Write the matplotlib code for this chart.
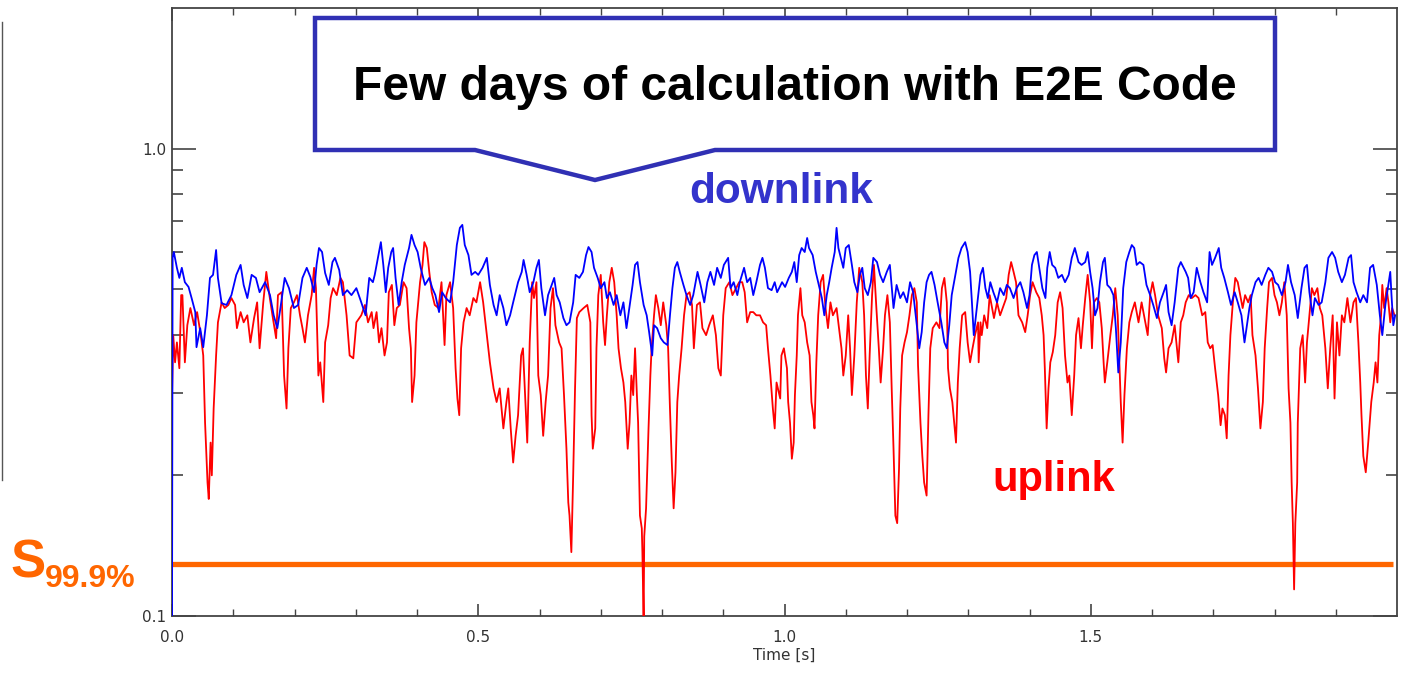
import matplotlib
matplotlib.use("Agg")
import matplotlib.pyplot as plt
from matplotlib import font_manager
from matplotlib.patches import Polygon
from matplotlib.ticker import FixedLocator, NullFormatter

# ---------------- data ----------------
downlink_time = [
    0.000, 0.001, 0.003, 0.008, 0.012, 0.016, 0.021, 0.027, 0.032, 0.038,
    0.040, 0.046, 0.051, 0.057, 0.062, 0.067, 0.072, 0.075, 0.081, 0.089,
    0.097, 0.105, 0.112, 0.117, 0.123, 0.130, 0.137, 0.143, 0.152, 0.160,
    0.166, 0.172, 0.177, 0.184, 0.191, 0.199, 0.206, 0.213, 0.220, 0.226,
    0.232, 0.236, 0.240, 0.245, 0.250, 0.256, 0.262, 0.266, 0.273, 0.279,
    0.286, 0.293, 0.301, 0.309, 0.316, 0.322, 0.328, 0.331, 0.337, 0.341,
    0.345, 0.349, 0.353, 0.358, 0.361, 0.365, 0.370, 0.375, 0.380, 0.387,
    0.391, 0.396, 0.401, 0.406, 0.413, 0.420, 0.425, 0.430, 0.436, 0.441,
    0.447, 0.454, 0.459, 0.465, 0.470, 0.474, 0.478, 0.484, 0.489, 0.495,
    0.500, 0.507, 0.514, 0.519, 0.525, 0.530, 0.535, 0.541, 0.546, 0.552,
    0.557, 0.565, 0.571, 0.574, 0.579, 0.584, 0.590, 0.595, 0.599, 0.603,
    0.609, 0.614, 0.620, 0.624, 0.628, 0.633, 0.639, 0.644, 0.649, 0.655,
    0.659, 0.665, 0.671, 0.676, 0.680, 0.685, 0.689, 0.695, 0.700, 0.706,
    0.710, 0.715, 0.721, 0.726, 0.732, 0.737, 0.742, 0.748, 0.752, 0.756,
    0.760, 0.764, 0.770, 0.775, 0.779, 0.784, 0.787, 0.792, 0.798, 0.803,
    0.809, 0.813, 0.817, 0.821, 0.825, 0.829, 0.835, 0.840, 0.846, 0.851,
    0.858, 0.863, 0.869, 0.874, 0.879, 0.885, 0.890, 0.896, 0.901, 0.908,
    0.912, 0.917, 0.923, 0.927, 0.934, 0.939, 0.944, 0.949, 0.954, 0.960,
    0.964, 0.968, 0.973, 0.979, 0.984, 0.988, 0.996, 1.001, 1.007, 1.012,
    1.016, 1.020, 1.024, 1.028, 1.033, 1.037, 1.040, 1.046, 1.051, 1.055,
    1.061, 1.065, 1.069, 1.073, 1.077, 1.082, 1.085, 1.088, 1.092, 1.096,
    1.100, 1.105, 1.110, 1.114, 1.119, 1.123, 1.127, 1.131, 1.136, 1.141,
    1.145, 1.151, 1.156, 1.161, 1.167, 1.172, 1.178, 1.183, 1.189, 1.194,
    1.200, 1.205, 1.210, 1.216, 1.220, 1.224, 1.228, 1.232, 1.236, 1.240,
    1.245, 1.250, 1.256, 1.261, 1.265, 1.269, 1.273, 1.278, 1.284, 1.289,
    1.295, 1.299, 1.303, 1.306, 1.309, 1.314, 1.317, 1.320, 1.324, 1.328,
    1.332, 1.336, 1.341, 1.347, 1.352, 1.358, 1.363, 1.368, 1.374, 1.379,
    1.385, 1.390, 1.396, 1.400, 1.404, 1.408, 1.412, 1.416, 1.421, 1.426,
    1.429, 1.433, 1.437, 1.442, 1.447, 1.453, 1.458, 1.464, 1.469, 1.474,
    1.480, 1.485, 1.491, 1.495, 1.499, 1.503, 1.507, 1.511, 1.515, 1.520,
    1.523, 1.527, 1.532, 1.537, 1.541, 1.545, 1.549, 1.553, 1.558, 1.563,
    1.567, 1.571, 1.575, 1.580, 1.586, 1.591, 1.597, 1.602, 1.608, 1.613,
    1.619, 1.623, 1.627, 1.632, 1.637, 1.643, 1.647, 1.655, 1.659, 1.663,
    1.668, 1.673, 1.679, 1.684, 1.690, 1.694, 1.698, 1.703, 1.709, 1.713,
    1.718, 1.724, 1.729, 1.735, 1.740, 1.746, 1.751, 1.755, 1.759, 1.763,
    1.769, 1.774, 1.779, 1.785, 1.790, 1.796, 1.801, 1.806, 1.812, 1.818,
    1.822, 1.827, 1.833, 1.838, 1.844, 1.849, 1.853, 1.857, 1.862, 1.866,
    1.872, 1.877, 1.883, 1.888, 1.894, 1.899, 1.904, 1.910, 1.915, 1.921,
    1.925, 1.929, 1.934, 1.940, 1.945, 1.951, 1.956, 1.961, 1.967, 1.972,
    1.976, 1.981, 1.985, 1.989, 1.991, 1.994, 1.997,
]
downlink_value = [
    0.090, 0.584, 0.601, 0.556, 0.529, 0.556, 0.518, 0.506, 0.479, 0.447,
    0.376, 0.413, 0.376, 0.440, 0.529, 0.537, 0.607, 0.529, 0.467, 0.463,
    0.486, 0.537, 0.564, 0.511, 0.479, 0.537, 0.529, 0.493, 0.518, 0.486,
    0.440, 0.413, 0.456, 0.529, 0.503, 0.456, 0.463, 0.529, 0.556, 0.531,
    0.493, 0.564, 0.613, 0.601, 0.542, 0.511, 0.572, 0.584, 0.550, 0.486,
    0.498, 0.486, 0.503, 0.469, 0.440, 0.529, 0.518, 0.537, 0.592, 0.631,
    0.564, 0.493, 0.556, 0.601, 0.613, 0.529, 0.463, 0.518, 0.564, 0.613,
    0.654, 0.622, 0.601, 0.556, 0.511, 0.529, 0.503, 0.486, 0.447, 0.493,
    0.479, 0.469, 0.518, 0.622, 0.677, 0.687, 0.622, 0.592, 0.537, 0.545,
    0.537, 0.556, 0.584, 0.511, 0.463, 0.440, 0.486, 0.456, 0.419, 0.440,
    0.469, 0.518, 0.545, 0.578, 0.537, 0.493, 0.518, 0.556, 0.578, 0.503,
    0.440, 0.486, 0.511, 0.529, 0.486, 0.469, 0.434, 0.419, 0.425, 0.469,
    0.537, 0.529, 0.545, 0.592, 0.616, 0.601, 0.556, 0.529, 0.503, 0.518,
    0.479, 0.493, 0.463, 0.486, 0.440, 0.469, 0.413, 0.469, 0.511, 0.564,
    0.572, 0.518, 0.463, 0.440, 0.405, 0.361, 0.419, 0.413, 0.393, 0.385,
    0.380, 0.440, 0.503, 0.556, 0.572, 0.545, 0.511, 0.486, 0.463, 0.486,
    0.545, 0.511, 0.469, 0.518, 0.545, 0.511, 0.556, 0.529, 0.564, 0.584,
    0.503, 0.518, 0.486, 0.518, 0.556, 0.518, 0.529, 0.486, 0.518, 0.564,
    0.584, 0.556, 0.503, 0.498, 0.518, 0.493, 0.518, 0.506, 0.529, 0.545,
    0.572, 0.518, 0.592, 0.613, 0.601, 0.644, 0.613, 0.592, 0.545, 0.518,
    0.479, 0.440, 0.486, 0.518, 0.556, 0.601, 0.677, 0.613, 0.584, 0.556,
    0.613, 0.622, 0.564, 0.518, 0.493, 0.537, 0.556, 0.503, 0.486, 0.518,
    0.584, 0.572, 0.537, 0.518, 0.545, 0.564, 0.456, 0.511, 0.479, 0.493,
    0.469, 0.518, 0.493, 0.419, 0.374, 0.405, 0.469, 0.518, 0.537, 0.545,
    0.511, 0.469, 0.425, 0.385, 0.374, 0.419, 0.486, 0.529, 0.584, 0.613,
    0.631, 0.601, 0.545, 0.469, 0.399, 0.456, 0.493, 0.537, 0.556, 0.503,
    0.479, 0.518, 0.493, 0.469, 0.503, 0.486, 0.511, 0.503, 0.479, 0.503,
    0.518, 0.493, 0.456, 0.486, 0.564, 0.592, 0.601, 0.556, 0.503, 0.479,
    0.556, 0.601, 0.564, 0.556, 0.529, 0.537, 0.518, 0.537, 0.584, 0.613,
    0.572, 0.564, 0.572, 0.601, 0.545, 0.503, 0.440, 0.456, 0.518, 0.572,
    0.584, 0.511, 0.503, 0.486, 0.413, 0.332, 0.385, 0.503, 0.572, 0.601,
    0.622, 0.613, 0.564, 0.572, 0.564, 0.511, 0.486, 0.463, 0.434, 0.469,
    0.493, 0.511, 0.447, 0.419, 0.469, 0.556, 0.572, 0.545, 0.529, 0.479,
    0.493, 0.556, 0.518, 0.493, 0.469, 0.601, 0.564, 0.584, 0.613, 0.556,
    0.529, 0.493, 0.463, 0.493, 0.469, 0.440, 0.385, 0.419, 0.456, 0.486,
    0.518, 0.529, 0.511, 0.537, 0.556, 0.545, 0.518, 0.511, 0.486, 0.518,
    0.564, 0.518, 0.486, 0.434, 0.503, 0.556, 0.564, 0.493, 0.440, 0.479,
    0.463, 0.469, 0.518, 0.584, 0.601, 0.584, 0.545, 0.518, 0.537, 0.584,
    0.592, 0.518, 0.493, 0.469, 0.486, 0.469, 0.556, 0.564, 0.511, 0.440,
    0.399, 0.463, 0.503, 0.545, 0.486, 0.419, 0.440,
]

uplink_time = [
    0.000, 0.002, 0.005, 0.008, 0.012, 0.015, 0.017, 0.021, 0.025, 0.030,
    0.036, 0.041, 0.047, 0.051, 0.054, 0.058, 0.060, 0.063, 0.065, 0.068,
    0.072, 0.075, 0.081, 0.086, 0.092, 0.097, 0.103, 0.106, 0.112, 0.117,
    0.123, 0.128, 0.134, 0.139, 0.143, 0.149, 0.154, 0.159, 0.164, 0.170,
    0.173, 0.179, 0.183, 0.187, 0.190, 0.194, 0.199, 0.204, 0.209, 0.213,
    0.217, 0.222, 0.228, 0.232, 0.235, 0.239, 0.242, 0.247, 0.250, 0.255,
    0.259, 0.263, 0.269, 0.275, 0.279, 0.285, 0.290, 0.296, 0.301, 0.309,
    0.315, 0.320, 0.326, 0.329, 0.334, 0.338, 0.342, 0.347, 0.351, 0.354,
    0.359, 0.363, 0.367, 0.372, 0.378, 0.383, 0.387, 0.390, 0.392, 0.396,
    0.399, 0.405, 0.409, 0.412, 0.416, 0.420, 0.424, 0.429, 0.435, 0.440,
    0.445, 0.448, 0.454, 0.459, 0.463, 0.466, 0.469, 0.472, 0.476, 0.481,
    0.486, 0.492, 0.497, 0.503, 0.508, 0.514, 0.519, 0.525, 0.530, 0.535,
    0.541, 0.546, 0.549, 0.553, 0.557, 0.561, 0.565, 0.570, 0.573, 0.577,
    0.580, 0.584, 0.588, 0.591, 0.595, 0.598, 0.602, 0.606, 0.610, 0.614,
    0.618, 0.622, 0.626, 0.632, 0.636, 0.640, 0.644, 0.647, 0.649, 0.652,
    0.655, 0.658, 0.661, 0.665, 0.672, 0.678, 0.683, 0.685, 0.687, 0.691,
    0.693, 0.696, 0.700, 0.704, 0.707, 0.710, 0.714, 0.718, 0.722, 0.726,
    0.729, 0.733, 0.737, 0.740, 0.744, 0.747, 0.750, 0.753, 0.756, 0.759,
    0.761, 0.764, 0.767, 0.768, 0.770, 0.771, 0.774, 0.778, 0.781, 0.783,
    0.787, 0.790, 0.794, 0.798, 0.802, 0.807, 0.810, 0.813, 0.816, 0.819,
    0.822, 0.825, 0.828, 0.832, 0.836, 0.840, 0.845, 0.849, 0.852, 0.857,
    0.862, 0.866, 0.872, 0.877, 0.883, 0.888, 0.892, 0.896, 0.900, 0.904,
    0.910, 0.915, 0.921, 0.926, 0.931, 0.935, 0.939, 0.944, 0.949, 0.954,
    0.960, 0.965, 0.970, 0.973, 0.977, 0.981, 0.984, 0.987, 0.993, 0.995,
    0.999, 1.004, 1.006, 1.009, 1.012, 1.015, 1.017, 1.020, 1.022, 1.026,
    1.029, 1.033, 1.037, 1.041, 1.044, 1.047, 1.049, 1.052, 1.055, 1.059,
    1.063, 1.067, 1.071, 1.075, 1.079, 1.085, 1.089, 1.093, 1.096, 1.100,
    1.104, 1.107, 1.110, 1.114, 1.118, 1.122, 1.127, 1.130, 1.133, 1.136,
    1.139, 1.143, 1.146, 1.150, 1.154, 1.157, 1.161, 1.164, 1.168, 1.172,
    1.175, 1.178, 1.181, 1.184, 1.187, 1.189, 1.192, 1.196, 1.200, 1.204,
    1.208, 1.212, 1.216, 1.218, 1.222, 1.225, 1.228, 1.232, 1.235, 1.238,
    1.242, 1.248, 1.253, 1.257, 1.261, 1.265, 1.267, 1.270, 1.274, 1.277,
    1.280, 1.283, 1.286, 1.290, 1.295, 1.299, 1.303, 1.307, 1.311, 1.316,
    1.317, 1.320, 1.322, 1.326, 1.331, 1.335, 1.339, 1.342, 1.347, 1.352,
    1.358, 1.362, 1.366, 1.370, 1.374, 1.378, 1.382, 1.388, 1.393, 1.397,
    1.401, 1.405, 1.411, 1.416, 1.420, 1.423, 1.425, 1.428, 1.431, 1.434,
    1.438, 1.442, 1.446, 1.450, 1.454, 1.458, 1.462, 1.465, 1.469, 1.473,
    1.476, 1.480, 1.484, 1.487, 1.491, 1.495, 1.499, 1.502, 1.505, 1.510,
    1.514, 1.518, 1.521, 1.523, 1.527, 1.532, 1.536, 1.540, 1.544, 1.547,
    1.549, 1.552, 1.555, 1.559, 1.563, 1.567, 1.572, 1.578, 1.583, 1.589,
    1.593, 1.597, 1.601, 1.605, 1.610, 1.616, 1.620, 1.623, 1.627, 1.632,
    1.637, 1.643, 1.647, 1.651, 1.655, 1.660, 1.665, 1.671, 1.676, 1.682,
    1.687, 1.691, 1.695, 1.699, 1.703, 1.708, 1.712, 1.715, 1.719, 1.722,
    1.725, 1.728, 1.732, 1.736, 1.740, 1.744, 1.748, 1.752, 1.757, 1.761,
    1.764, 1.769, 1.773, 1.777, 1.781, 1.784, 1.788, 1.791, 1.796, 1.800,
    1.804, 1.808, 1.812, 1.816, 1.820, 1.823, 1.826, 1.828, 1.830, 1.832,
    1.834, 1.837, 1.838, 1.842, 1.846, 1.850, 1.853, 1.857, 1.861, 1.865,
    1.870, 1.874, 1.878, 1.883, 1.887, 1.891, 1.895, 1.898, 1.902, 1.906,
    1.910, 1.914, 1.919, 1.924, 1.929, 1.933, 1.937, 1.940, 1.942, 1.945,
    1.949, 1.953, 1.958, 1.962, 1.965, 1.968, 1.971, 1.974, 1.976, 1.979,
    1.983, 1.986, 1.989, 1.992, 1.996,
]
uplink_value = [
    0.297, 0.399, 0.349, 0.385, 0.339, 0.486, 0.486, 0.349, 0.419, 0.456,
    0.419, 0.447, 0.399, 0.361, 0.259, 0.193, 0.178, 0.235, 0.200, 0.278,
    0.361, 0.425, 0.469, 0.456, 0.463, 0.479, 0.463, 0.413, 0.447, 0.425,
    0.440, 0.385, 0.434, 0.469, 0.374, 0.469, 0.545, 0.486, 0.440, 0.393,
    0.486, 0.493, 0.327, 0.278, 0.374, 0.456, 0.469, 0.486, 0.440, 0.413,
    0.385, 0.440, 0.486, 0.556, 0.503, 0.327, 0.349, 0.287, 0.385, 0.419,
    0.479, 0.503, 0.486, 0.529, 0.518, 0.440, 0.361, 0.356, 0.425, 0.440,
    0.463, 0.425, 0.447, 0.413, 0.447, 0.385, 0.413, 0.361, 0.385, 0.493,
    0.511, 0.419, 0.456, 0.463, 0.518, 0.503, 0.413, 0.374, 0.287, 0.327,
    0.425, 0.518, 0.564, 0.631, 0.613, 0.545, 0.493, 0.463, 0.456, 0.518,
    0.380, 0.486, 0.518, 0.456, 0.339, 0.292, 0.269, 0.374, 0.425, 0.456,
    0.440, 0.479, 0.469, 0.518, 0.469, 0.399, 0.349, 0.307, 0.287, 0.307,
    0.252, 0.287, 0.307, 0.252, 0.213, 0.243, 0.269, 0.361, 0.374, 0.287,
    0.235, 0.385, 0.518, 0.479, 0.518, 0.327, 0.297, 0.243, 0.287, 0.327,
    0.456, 0.503, 0.419, 0.385, 0.374, 0.297, 0.228, 0.175, 0.164, 0.137,
    0.200, 0.306, 0.434, 0.447, 0.456, 0.463, 0.425, 0.269, 0.228, 0.252,
    0.374, 0.486, 0.537, 0.425, 0.380, 0.440, 0.518, 0.556, 0.518, 0.440,
    0.374, 0.339, 0.316, 0.287, 0.228, 0.259, 0.327, 0.297, 0.374, 0.297,
    0.259, 0.164, 0.154, 0.137, 0.098, 0.148, 0.170, 0.252, 0.327, 0.374,
    0.440, 0.486, 0.456, 0.419, 0.469, 0.419, 0.374, 0.278, 0.213, 0.170,
    0.203, 0.287, 0.327, 0.374, 0.440, 0.486, 0.493, 0.463, 0.374, 0.463,
    0.469, 0.413, 0.399, 0.419, 0.440, 0.399, 0.339, 0.327, 0.440, 0.503,
    0.518, 0.486, 0.503, 0.518, 0.518, 0.493, 0.425, 0.447, 0.447, 0.440,
    0.440, 0.425, 0.419, 0.374, 0.327, 0.278, 0.252, 0.316, 0.292, 0.361,
    0.374, 0.339, 0.287, 0.259, 0.217, 0.235, 0.297, 0.361, 0.440, 0.503,
    0.440, 0.425, 0.385, 0.361, 0.287, 0.269, 0.252, 0.349, 0.440, 0.518,
    0.537, 0.456, 0.413, 0.469, 0.440, 0.456, 0.413, 0.374, 0.327, 0.361,
    0.440, 0.374, 0.297, 0.361, 0.469, 0.556, 0.518, 0.440, 0.327, 0.278,
    0.361, 0.486, 0.564, 0.456, 0.374, 0.316, 0.374, 0.440, 0.486, 0.425,
    0.307, 0.228, 0.164, 0.158, 0.207, 0.278, 0.361, 0.385, 0.405, 0.440,
    0.486, 0.503, 0.469, 0.344, 0.259, 0.220, 0.193, 0.181, 0.269, 0.374,
    0.413, 0.425, 0.413, 0.503, 0.529, 0.469, 0.339, 0.307, 0.287, 0.259,
    0.235, 0.316, 0.374, 0.440, 0.447, 0.385, 0.349, 0.374, 0.399, 0.425,
    0.349, 0.425, 0.399, 0.440, 0.413, 0.486, 0.456, 0.434, 0.469, 0.440,
    0.463, 0.479, 0.537, 0.572, 0.545, 0.518, 0.440, 0.425, 0.405, 0.440,
    0.486, 0.518, 0.493, 0.479, 0.440, 0.399, 0.339, 0.252, 0.307, 0.349,
    0.367, 0.399, 0.469, 0.493, 0.456, 0.361, 0.316, 0.327, 0.269, 0.327,
    0.399, 0.434, 0.374, 0.419, 0.479, 0.537, 0.469, 0.374, 0.469, 0.479,
    0.469, 0.413, 0.349, 0.316, 0.349, 0.399, 0.440, 0.503, 0.440, 0.339,
    0.287, 0.235, 0.297, 0.374, 0.425, 0.447, 0.469, 0.425, 0.469, 0.425,
    0.399, 0.486, 0.518, 0.486, 0.440, 0.413, 0.356, 0.332, 0.374, 0.385,
    0.419, 0.349, 0.425, 0.440, 0.469, 0.486, 0.479, 0.486, 0.479, 0.440,
    0.447, 0.385, 0.374, 0.380, 0.339, 0.297, 0.256, 0.278, 0.269, 0.240,
    0.327, 0.399, 0.469, 0.529, 0.518, 0.486, 0.456, 0.486, 0.469, 0.486,
    0.399, 0.361, 0.307, 0.252, 0.287, 0.374, 0.456, 0.518, 0.529, 0.486,
    0.469, 0.440, 0.469, 0.518, 0.440, 0.307, 0.259, 0.193, 0.158, 0.114,
    0.158, 0.193, 0.259, 0.374, 0.399, 0.316, 0.385, 0.440, 0.503, 0.486,
    0.503, 0.456, 0.440, 0.374, 0.307, 0.374, 0.440, 0.292, 0.425, 0.361,
    0.440, 0.425, 0.479, 0.425, 0.469, 0.479, 0.385, 0.316, 0.269, 0.220,
    0.203, 0.235, 0.287, 0.316, 0.349, 0.316, 0.399, 0.440, 0.511, 0.456,
    0.503, 0.469, 0.425, 0.456, 0.440,
]

threshold_value = 0.129          # S_99.9% level
x_major_ticks = [0.0, 0.5, 1.0, 1.5]
x_major_labels = ["0.0", "0.5", "1.0", "1.5"]
y_major_ticks = [0.1, 1.0]
y_major_labels = ["0.1", "1.0"]
y_minor_ticks = [0.2, 0.3, 0.4, 0.5, 0.6, 0.7, 0.8, 0.9]
x_minor_ticks = [0.1, 0.2, 0.3, 0.4, 0.6, 0.7, 0.8, 0.9,
                 1.1, 1.2, 1.3, 1.4, 1.6, 1.7, 1.8, 1.9]

title_text = "Few days of calculation with E2E Code"
downlink_label = "downlink"
uplink_label = "uplink"
x_label = "Time [s]"

assert len(downlink_time) == len(downlink_value)
assert len(uplink_time) == len(uplink_value)

# ---------------- fonts ----------------
available = {f.name for f in font_manager.fontManager.ttflist}
tick_font = "Liberation Sans Narrow" if "Liberation Sans Narrow" in available else "DejaVu Sans"
bold_font = "Liberation Sans" if "Liberation Sans" in available else "DejaVu Sans"

W, H = 1401, 674
fig = plt.figure(figsize=(W / 100, H / 100), dpi=100)
fig.patch.set_facecolor("white")

# main axes in pixel placement
L, R, T, B = 172, 1397, 8, 616
ax = fig.add_axes([L / W, 1 - B / H, (R - L) / W, (B - T) / H])
ax.set_yscale("log")
ax.set_xlim(0.0, 2.0)
ax.set_ylim(0.1, 2.0)

ax.plot([0.0, 1.993], [threshold_value, threshold_value], color="#ff6600",
        lw=3.8, solid_capstyle="butt", zorder=2)
ax.plot(uplink_time, uplink_value, color="#ff0000", lw=1.3, zorder=3)
ax.plot(downlink_time, downlink_value, color="#0000ff", lw=1.3, zorder=4)

spine_col = "#444444"
for s in ax.spines.values():
    s.set_color(spine_col)
    s.set_linewidth(1.3)

ax.yaxis.set_major_locator(FixedLocator(y_major_ticks))
ax.yaxis.set_minor_locator(FixedLocator(y_minor_ticks))
ax.set_yticklabels(y_major_labels)
ax.yaxis.set_minor_formatter(NullFormatter())
ax.xaxis.set_major_locator(FixedLocator(x_major_ticks))
ax.xaxis.set_minor_locator(FixedLocator(x_minor_ticks))
ax.set_xticklabels(x_major_labels)

ax.tick_params(axis="y", which="major", direction="in", length=17, width=1.2,
               color=spine_col, left=True, right=True, labelsize=11,
               labelcolor="#333333", pad=4)
ax.tick_params(axis="y", which="minor", direction="in", length=8, width=1.2,
               color=spine_col, left=True, right=True)
ax.tick_params(axis="x", which="major", direction="in", length=9, width=1.2,
               color=spine_col, bottom=True, top=True, labelsize=11,
               labelcolor="#333333", pad=10)
ax.tick_params(axis="x", which="minor", direction="in", length=5, width=1.0,
               color=spine_col, bottom=True, top=True)
for lab in ax.get_xticklabels() + ax.get_yticklabels():
    lab.set_fontfamily(tick_font)
ax.set_xlabel(x_label, fontsize=11, color="#333333", fontfamily=tick_font, labelpad=2)

# ---------------- overlay for annotations (pixel coordinates) ----------------
ov = fig.add_axes([0, 0, 1, 1], zorder=10)
ov.set_xlim(0, W)
ov.set_ylim(H, 0)
ov.axis("off")

callout = Polygon([(315, 18), (1275, 18), (1275, 150), (715, 150), (595, 180),
                   (475, 150), (315, 150)], closed=True, facecolor="white",
                  edgecolor="#3030b4", lw=3.2, joinstyle="miter")
ov.add_patch(callout)
ov.text(795, 87, title_text, ha="center", va="center", fontsize=34.5,
        fontweight="bold", color="black", fontfamily=bold_font)
ov.text(781, 192, downlink_label, ha="center", va="center", fontsize=30.5,
        fontweight="bold", color="#3333cc", fontfamily=bold_font)
ov.text(1054, 480, uplink_label, ha="center", va="center", fontsize=30,
        fontweight="bold", color="#ff0000", fontfamily=bold_font)
ov.text(10, 577, "S", ha="left", va="baseline", fontsize=38,
        fontweight="bold", color="#ff6600", fontfamily=bold_font)
ov.text(45, 587, "99.9%", ha="left", va="baseline", fontsize=23,
        fontweight="bold", color="#ff6600", fontfamily=bold_font)
# thin line at the left edge (slide residue)
ov.plot([1.5, 1.5], [22, 480], color="#555555", lw=1.0)

fig.savefig("out.png", dpi=100, facecolor="white")
